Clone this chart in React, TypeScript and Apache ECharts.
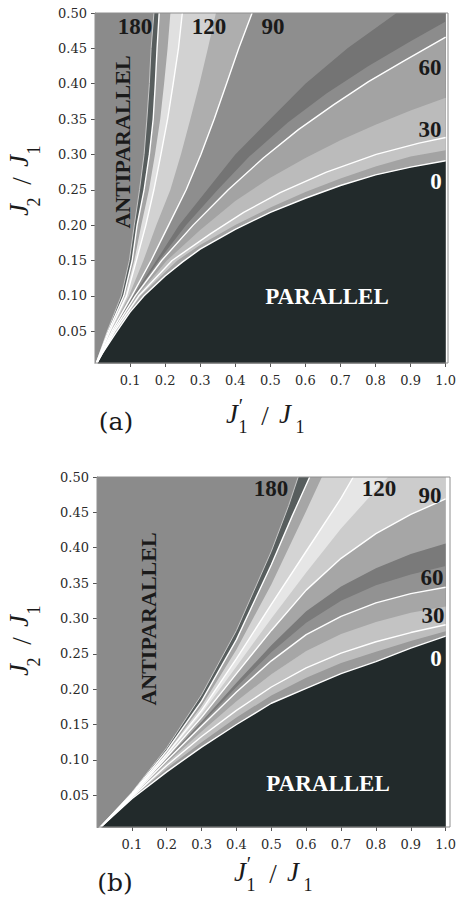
import React, { useEffect, useRef } from "react";
import * as echarts from "echarts";

type Pt = [number, number];

// ---------- axes ----------
const X_MIN = 0;
const X_MAX = 1;
const Y_MIN = 0.005;
const Y_MAX = 0.5;
const X_TICKS = [0.1, 0.2, 0.3, 0.4, 0.5, 0.6, 0.7, 0.8, 0.9, 1.0];
const X_TICK_LABELS = ["0.1", "0.2", "0.3", "0.4", "0.5", "0.6", "0.7", "0.8", "0.9", "1.0"];
const Y_TICKS = [0.05, 0.1, 0.15, 0.2, 0.25, 0.3, 0.35, 0.4, 0.45, 0.5];
const Y_TICK_LABELS = ["0.05", "0.10", "0.15", "0.20", "0.25", "0.30", "0.35", "0.40", "0.45", "0.50"];

// ---------- panel (a): contour curves (J1'/J1, J2/J1) ----------
const A_ANTIPARALLEL: Pt[] = [[0, 0], [0.035, 0.05], [0.075, 0.1], [0.098, 0.15], [0.112, 0.2], [0.127, 0.25], [0.14, 0.3], [0.148, 0.35], [0.155, 0.4], [0.16, 0.45], [0.168, 0.5]];
const A_180: Pt[] = [[0, 0], [0.038, 0.05], [0.082, 0.1], [0.106, 0.15], [0.12, 0.2], [0.14, 0.25], [0.155, 0.3], [0.166, 0.35], [0.172, 0.4], [0.177, 0.45], [0.183, 0.5]];
const A_150: Pt[] = [[0, 0], [0.04, 0.05], [0.086, 0.1], [0.112, 0.15], [0.132, 0.2], [0.154, 0.25], [0.171, 0.3], [0.186, 0.35], [0.197, 0.4], [0.207, 0.45], [0.215, 0.5]];
const A_120: Pt[] = [[0, 0], [0.042, 0.05], [0.09, 0.1], [0.118, 0.15], [0.145, 0.2], [0.168, 0.25], [0.188, 0.3], [0.207, 0.35], [0.223, 0.4], [0.238, 0.45], [0.249, 0.5]];
const A_105: Pt[] = [[0, 0], [0.045, 0.05], [0.097, 0.1], [0.138, 0.15], [0.175, 0.2], [0.215, 0.25], [0.245, 0.3], [0.272, 0.35], [0.298, 0.4], [0.322, 0.45], [0.345, 0.5]];
const A_90: Pt[] = [[0, 0], [0.048, 0.05], [0.105, 0.1], [0.16, 0.15], [0.21, 0.2], [0.26, 0.25], [0.302, 0.3], [0.34, 0.35], [0.375, 0.4], [0.41, 0.45], [0.448, 0.5]];
const A_75: Pt[] = [[0, 0], [0.05, 0.049], [0.11, 0.1], [0.175, 0.15], [0.24, 0.2], [0.32, 0.25], [0.4, 0.3], [0.5, 0.35], [0.6, 0.4], [0.72, 0.45], [0.86, 0.5]];
const A_68: Pt[] = [[0, 0], [0.051, 0.0495], [0.112, 0.1], [0.182, 0.15], [0.26, 0.2], [0.35, 0.25], [0.44, 0.297], [0.55, 0.345], [0.66, 0.386], [0.78, 0.425], [0.9, 0.46], [1.0, 0.488]];
const A_60: Pt[] = [[0, 0], [0.052, 0.05], [0.115, 0.1], [0.19, 0.15], [0.28, 0.2], [0.38, 0.25], [0.48, 0.295], [0.58, 0.335], [0.68, 0.37], [0.78, 0.403], [0.88, 0.432], [1.0, 0.466]];
const A_45: Pt[] = [[0, 0], [0.054, 0.05], [0.12, 0.1], [0.205, 0.15], [0.3, 0.193], [0.4, 0.234], [0.5, 0.267], [0.6, 0.295], [0.7, 0.32], [0.8, 0.342], [0.9, 0.362], [1.0, 0.38]];
const A_30: Pt[] = [[0, 0], [0.056, 0.05], [0.125, 0.1], [0.22, 0.15], [0.33, 0.188], [0.424, 0.218], [0.528, 0.246], [0.66, 0.275], [0.802, 0.3], [0.924, 0.316], [1.0, 0.324]];
const A_15: Pt[] = [[0, 0], [0.058, 0.049], [0.13, 0.1], [0.235, 0.15], [0.3, 0.172], [0.4, 0.2], [0.5, 0.225], [0.6, 0.247], [0.7, 0.266], [0.8, 0.283], [0.9, 0.297], [1.0, 0.306]];
const A_PARALLEL: Pt[] = [[0, 0], [0.02, 0.018], [0.06, 0.048], [0.1, 0.077], [0.14, 0.1], [0.2, 0.128], [0.25, 0.148], [0.3, 0.166], [0.4, 0.194], [0.5, 0.218], [0.6, 0.238], [0.7, 0.256], [0.8, 0.271], [0.9, 0.282], [1.0, 0.291]];

// ---------- panel (b) ----------
const B_ANTIPARALLEL: Pt[] = [[0, 0], [0.1, 0.054], [0.2, 0.117], [0.3, 0.192], [0.4, 0.283], [0.5, 0.395], [0.55, 0.46], [0.577, 0.5]];
const B_180: Pt[] = [[0, 0], [0.1, 0.0525], [0.2, 0.113], [0.3, 0.183], [0.4, 0.27], [0.5, 0.376], [0.56, 0.445], [0.61, 0.5]];
const B_150: Pt[] = [[0, 0], [0.1, 0.052], [0.2, 0.11], [0.3, 0.176], [0.4, 0.256], [0.5, 0.348], [0.6, 0.452], [0.645, 0.5]];
const B_120: Pt[] = [[0, 0], [0.1, 0.051], [0.2, 0.108], [0.3, 0.17], [0.4, 0.243], [0.5, 0.32], [0.6, 0.395], [0.7, 0.47], [0.735, 0.5]];
const B_105: Pt[] = [[0, 0], [0.1, 0.0505], [0.2, 0.106], [0.3, 0.165], [0.4, 0.232], [0.5, 0.3], [0.6, 0.365], [0.7, 0.427], [0.8, 0.482], [0.835, 0.5]];
const B_90: Pt[] = [[0, 0], [0.1, 0.05], [0.2, 0.104], [0.3, 0.16], [0.4, 0.222], [0.5, 0.283], [0.6, 0.34], [0.7, 0.385], [0.8, 0.42], [0.9, 0.447], [1.0, 0.469]];
const B_75: Pt[] = [[0, 0], [0.1, 0.0495], [0.2, 0.101], [0.3, 0.154], [0.4, 0.209], [0.5, 0.262], [0.6, 0.31], [0.7, 0.345], [0.8, 0.371], [0.9, 0.391], [1.0, 0.406]];
const B_68: Pt[] = [[0, 0], [0.1, 0.049], [0.2, 0.1], [0.3, 0.151], [0.4, 0.203], [0.5, 0.252], [0.6, 0.294], [0.7, 0.325], [0.8, 0.347], [0.9, 0.362], [1.0, 0.374]];
const B_60: Pt[] = [[0, 0], [0.1, 0.049], [0.2, 0.099], [0.3, 0.148], [0.4, 0.196], [0.5, 0.24], [0.6, 0.277], [0.7, 0.303], [0.8, 0.322], [0.9, 0.335], [1.0, 0.344]];
const B_45: Pt[] = [[0, 0], [0.1, 0.048], [0.2, 0.0955], [0.3, 0.14], [0.4, 0.183], [0.5, 0.221], [0.6, 0.254], [0.7, 0.278], [0.8, 0.295], [0.9, 0.308], [1.0, 0.317]];
const B_30: Pt[] = [[0, 0], [0.1, 0.047], [0.2, 0.092], [0.3, 0.133], [0.4, 0.17], [0.5, 0.203], [0.6, 0.23], [0.7, 0.251], [0.8, 0.267], [0.9, 0.28], [1.0, 0.291]];
const B_15: Pt[] = [[0, 0], [0.1, 0.046], [0.2, 0.0875], [0.3, 0.125], [0.4, 0.16], [0.5, 0.191], [0.6, 0.216], [0.7, 0.237], [0.8, 0.253], [0.9, 0.268], [1.0, 0.282]];
const B_PARALLEL: Pt[] = [[0, 0], [0.1, 0.045], [0.2, 0.083], [0.3, 0.118], [0.4, 0.15], [0.5, 0.18], [0.6, 0.201], [0.7, 0.222], [0.8, 0.239], [0.9, 0.258], [1.0, 0.275]];

type Layer = { curve: Pt[]; fill: string; line?: "white" | "edge" };

const LAYERS_A: Layer[] = [
  { curve: A_ANTIPARALLEL, fill: "#575d5d", line: "edge" },
  { curve: A_180, fill: "#a4a4a4", line: "white" },
  { curve: A_150, fill: "#e0e0e0" },
  { curve: A_120, fill: "#d2d2d2", line: "white" },
  { curve: A_105, fill: "#aeaeae" },
  { curve: A_90, fill: "#8e8e8e", line: "white" },
  { curve: A_75, fill: "#747474" },
  { curve: A_68, fill: "#8c8c8c" },
  { curve: A_60, fill: "#a3a3a3", line: "white" },
  { curve: A_45, fill: "#bbbbbb" },
  { curve: A_30, fill: "#c4c4c4", line: "white" },
  { curve: A_15, fill: "#a3a3a3" },
  { curve: A_PARALLEL, fill: "#222a2b", line: "white" },
];

const LAYERS_B: Layer[] = [
  { curve: B_ANTIPARALLEL, fill: "#575d5d", line: "edge" },
  { curve: B_180, fill: "#a6a6a6", line: "white" },
  { curve: B_150, fill: "#d4d4d4" },
  { curve: B_120, fill: "#e6e6e6", line: "white" },
  { curve: B_105, fill: "#cccccc" },
  { curve: B_90, fill: "#a6a6a6", line: "white" },
  { curve: B_75, fill: "#7a7a7a" },
  { curve: B_68, fill: "#929292" },
  { curve: B_60, fill: "#a6a6a6", line: "white" },
  { curve: B_45, fill: "#c3c3c3" },
  { curve: B_30, fill: "#bdbdbd", line: "white" },
  { curve: B_15, fill: "#9a9a9a" },
  { curve: B_PARALLEL, fill: "#222a2b", line: "white" },
];

const GRIDS = [
  { left: 95, top: 13, width: 353, height: 350 },
  { left: 97, top: 477, width: 353, height: 350 },
];

const ANTIPARALLEL_GREY = "#8b8b8b";
const SERIF = '"Liberation Serif", "DejaVu Serif", serif';
const TICK_FONT = '"DejaVu Serif", serif';

function closeToTop(c: Pt[]): Pt[] {
  const last = c[c.length - 1];
  return last[1] >= Y_MAX ? [...c, [X_MAX, Y_MAX]] : c;
}

function lookup(ticks: number[], labels: string[], v: number): string {
  for (let i = 0; i < ticks.length; i++) if (Math.abs(ticks[i] - v) < 1e-6) return labels[i];
  return "";
}

function buildSeries(layers: Layer[], g: number): any[] {
  const areas = layers.map((l) => ({
    type: "line",
    xAxisIndex: g,
    yAxisIndex: g,
    data: closeToTop(l.curve),
    symbol: "none",
    silent: true,
    lineStyle: { width: 0, opacity: 0 },
    areaStyle: { color: l.fill, opacity: 1 },
  }));
  const lines = layers
    .filter((l) => l.line)
    .map((l) => ({
      type: "line",
      xAxisIndex: g,
      yAxisIndex: g,
      data: l.curve,
      symbol: "none",
      silent: true,
      lineStyle: { color: l.line === "white" ? "#ffffff" : "#c8c8c8", width: l.line === "white" ? 1.4 : 1 },
    }));
  return [...areas, ...lines];
}

function txt(t: string, x: number, y: number, o: any = {}): any {
  return {
    type: "text",
    x,
    y,
    rotation: o.rotation || 0,
    z: 20,
    silent: true,
    style: {
      text: t,
      fill: o.fill || "#1a1a1a",
      fontFamily: o.fontFamily || SERIF,
      fontSize: o.fontSize || 22,
      fontWeight: o.fontWeight || "bold",
      fontStyle: o.fontStyle || "normal",
      align: "center",
      verticalAlign: "middle",
      textAlign: "center",
      textVerticalAlign: "middle",
    },
  };
}

type Part = [string, number, number, number, boolean];
// text, dx, dy, size, italic
const Y_TITLE_PARTS: Part[] = [
  ["J", -33, 0, 27, true],
  ["2", -25, 15, 18, false],
  ["/", -4, 3, 27, false],
  ["J", 16, 0, 27, true],
  ["1", 27, 15, 18, false],
];
const X_TITLE_PARTS: Part[] = [
  ["J", 0, 0, 27, true],
  ["\u2032", 9, -8, 20, false],
  ["1", 11, 13, 18, false],
  ["/", 33, 2, 27, false],
  ["J", 53, 0, 27, true],
  ["1", 68, 13, 18, false],
];

function mathTitle(parts: Part[], x: number, y: number, rotation: number): any {
  return {
    type: "group",
    x,
    y,
    rotation,
    silent: true,
    children: parts.map(([t, dx, dy, size, it]) => ({
      type: "text",
      x: dx,
      y: dy,
      z: 20,
      style: {
        text: t,
        fill: "#1a1a1a",
        fontFamily: SERIF,
        fontSize: size,
        fontStyle: it ? "italic" : "normal",
        fontWeight: "normal",
        align: "center",
        verticalAlign: "middle",
        textAlign: "center",
        textVerticalAlign: "middle",
      },
    })),
  };
}

function frame(g: { left: number; top: number; width: number; height: number }): any {
  return {
    type: "rect",
    z: 15,
    silent: true,
    shape: { x: g.left, y: g.top, width: g.width, height: g.height },
    style: { fill: "none", stroke: "#8e8e8e", lineWidth: 1 },
  };
}

export default function App() {
  const ref = useRef<HTMLDivElement>(null);
  useEffect(() => {
    if (!ref.current) return;
    const chart = echarts.init(ref.current, undefined, { renderer: "svg" });
    const xAxes = GRIDS.map((_, g) => ({
      gridIndex: g,
      type: "value",
      min: X_MIN,
      max: X_MAX,
      axisLine: { show: true, onZero: false, lineStyle: { color: "#8e8e8e", width: 1 } },
      axisTick: { show: true, inside: false, length: 4, customValues: X_TICKS, lineStyle: { color: "#555" } },
      axisLabel: {
        customValues: X_TICKS,
        formatter: (v: number) => lookup(X_TICKS, X_TICK_LABELS, v),
        margin: 11,
        fontFamily: TICK_FONT,
        fontSize: 13,
        color: "#2a2a2a",
      },
      splitLine: { show: false },
    }));
    const yAxes = GRIDS.map((_, g) => ({
      gridIndex: g,
      type: "value",
      min: Y_MIN,
      max: Y_MAX,
      axisLine: { show: true, onZero: false, lineStyle: { color: "#8e8e8e", width: 1 } },
      axisTick: { show: true, inside: false, length: 4, customValues: Y_TICKS, lineStyle: { color: "#555" } },
      axisLabel: {
        customValues: Y_TICKS,
        formatter: (v: number) => lookup(Y_TICKS, Y_TICK_LABELS, v),
        margin: 8,
        fontFamily: TICK_FONT,
        fontSize: 13,
        color: "#2a2a2a",
      },
      splitLine: { show: false },
    }));

    const graphic: any[] = [
      frame(GRIDS[0]),
      frame(GRIDS[1]),
      // panel (a) labels
      txt("180", 135, 26, { fontSize: 23 }),
      txt("120", 209, 26, { fontSize: 23 }),
      txt("90", 273, 26, { fontSize: 23 }),
      txt("60", 430, 67, { fontSize: 23 }),
      txt("30", 430, 129, { fontSize: 23 }),
      txt("0", 436, 181, { fontSize: 23, fill: "#ffffff" }),
      txt("PARALLEL", 327, 296, { fontSize: 23, fill: "#ffffff" }),
      txt("ANTIPARALLEL", 122, 142, { fontSize: 22, rotation: Math.PI / 2 }),
      txt("(a)", 116, 421, { fontSize: 25, fontWeight: "normal", fontFamily: TICK_FONT }),
      mathTitle(Y_TITLE_PARTS, 19, 177, Math.PI / 2),
      mathTitle(X_TITLE_PARTS, 232, 414, 0),
      // panel (b) labels
      txt("180", 271, 488, { fontSize: 23 }),
      txt("120", 379, 488, { fontSize: 23 }),
      txt("90", 430, 495, { fontSize: 23 }),
      txt("60", 432, 577, { fontSize: 23 }),
      txt("30", 433, 615, { fontSize: 23 }),
      txt("0", 436, 658, { fontSize: 23, fill: "#ffffff" }),
      txt("PARALLEL", 328, 783, { fontSize: 23, fill: "#ffffff" }),
      txt("ANTIPARALLEL", 148, 619, { fontSize: 22, rotation: Math.PI / 2 }),
      txt("(b)", 115, 882, { fontSize: 25, fontWeight: "normal", fontFamily: TICK_FONT }),
      mathTitle(Y_TITLE_PARTS, 19, 637, Math.PI / 2),
      mathTitle(X_TITLE_PARTS, 240, 872, 0),
    ];

    chart.setOption({
      animation: false,
      backgroundColor: "#ffffff",
      grid: GRIDS.map((g) => ({
        ...g,
        show: true,
        backgroundColor: ANTIPARALLEL_GREY,
        borderWidth: 0,
        containLabel: false,
      })),
      xAxis: xAxes,
      yAxis: yAxes,
      series: [...buildSeries(LAYERS_A, 0), ...buildSeries(LAYERS_B, 1)],
      graphic,
    });
    return () => chart.dispose();
  }, []);
  return (
    <div
      ref={ref}
      style={{ position: "absolute", left: 0, top: 0, width: 459, height: 900 }}
    />
  );
}
